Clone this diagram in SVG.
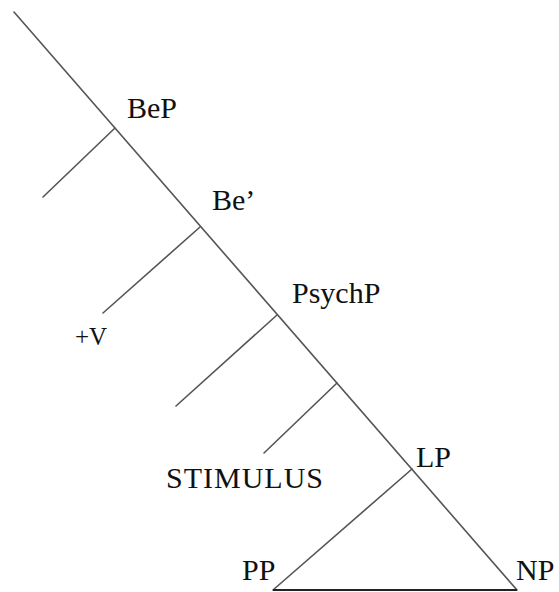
<svg xmlns="http://www.w3.org/2000/svg" width="559" height="592" viewBox="0 0 559 592">
<style>
.e{stroke:#555;stroke-width:1.6;fill:none;stroke-linecap:round}
.b{stroke:#222;stroke-width:2.2;fill:none}
text{font-family:'Liberation Serif','DejaVu Serif',serif;font-size:30px;fill:#111}
.s{font-size:25px}
.w{letter-spacing:1px}
</style>
<rect width="559" height="592" fill="#fff"/>
<g id="connectors">
<line class="e" x1="14" y1="12" x2="517" y2="590"/>
<line class="e" x1="115" y1="128" x2="43" y2="197"/>
<line class="e" x1="200" y1="227" x2="103" y2="313"/>
<line class="e" x1="277" y1="315" x2="176" y2="406"/>
<line class="e" x1="337" y1="383" x2="264" y2="453"/>
<line class="e" x1="412" y1="469" x2="273" y2="590"/>
<line class="b" x1="273" y1="590" x2="517" y2="590"/>
</g>
<g id="BeP"><text x="127" y="118">BeP</text></g>
<g id="Be1"><text x="212" y="210">Be’</text></g>
<g id="plusV"><text class="s" x="75" y="345">+V</text></g>
<g id="PsychP"><text x="292" y="303">PsychP</text></g>
<g id="STIMULUS"><text class="w" x="166" y="488">STIMULUS</text></g>
<g id="LP"><text x="416" y="467">LP</text></g>
<g id="PP"><text x="242" y="580">PP</text></g>
<g id="NP"><text x="516" y="580">NP</text></g>
</svg>
